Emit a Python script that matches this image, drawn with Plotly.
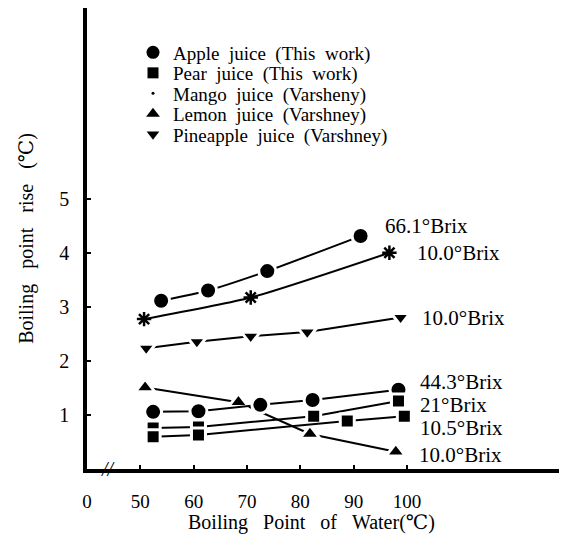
import plotly.graph_objects as go

# ---------------- data ----------------
apple66_x = [53.9, 62.7, 73.8, 91.3]
apple66_y = [3.12, 3.31, 3.67, 4.32]

mango_x = [50.7, 70.7, 96.7]
mango_y = [2.78, 3.18, 4.01]

pine_x = [51.1, 60.6, 70.7, 81.3, 98.8]
pine_y = [2.24, 2.36, 2.46, 2.54, 2.81]

lemon_x = [50.9, 68.4, 81.8, 97.9]
lemon_y = [1.51, 1.24, 0.65, 0.32]

apple44_x = [52.4, 60.9, 72.5, 82.3, 98.4]
apple44_y = [1.06, 1.07, 1.19, 1.28, 1.47]

pear21_x = [52.4, 60.9, 82.5, 98.4]
pear21_y = [0.76, 0.78, 0.98, 1.26]

pear105_x = [52.4, 60.9, 88.8, 99.5]
pear105_y = [0.60, 0.63, 0.89, 0.98]

x_tickvals = [40, 50, 60, 70, 80, 90, 100]
x_ticktext = ["0", "50", "60", "70", "80", "90", "100"]
y_tickvals = [1, 2, 3, 4, 5]
y_ticktext = ["1", "2", "3", "4", "5"]

legend_names = [
    "Apple juice (This work)",
    "Pear juice (This work)",
    "Mango juice (Varsheny)",
    "Lemon juice (Varshney)",
    "Pineapple juice (Varshney)",
]
brix_labels = ["66.1°Brix", "10.0°Brix", "10.0°Brix", "44.3°Brix",
               "21°Brix", "10.5°Brix", "10.0°Brix"]
x_title = "Boiling Point of Water(℃)"
y_title = "Boiling point rise (℃)"

# ---------------- styling / layout ----------------
FONT = "Liberation Serif, Times New Roman, DejaVu Serif, serif"
OFF = 8                      # page body margin of the html page
W, H = 567 - OFF, 536 - OFF
ML, MR, MT, MB = 87 - OFF, 0, 0, 67


def wide(s, n=1):
    return s.replace(" ", " " + "\u00a0" * n)


fig = go.Figure()

WL = 3  # white halo around markers -> gaps in lines


def series(x, y, symbol, size, shape="linear", halo=True):
    fig.add_trace(go.Scatter(
        x=x, y=y, mode="lines+markers", showlegend=False,
        line=dict(color="black", width=2, shape=shape, smoothing=0.6),
        marker=dict(symbol=symbol, size=size + (WL if halo else 0), color="black",
                    line=dict(color="white" if halo else "black",
                              width=WL if halo else 2.5)),
        cliponaxis=False,
    ))


series(apple66_x, apple66_y, "circle", 14, shape="spline")
series(mango_x, mango_y, "asterisk-open", 12, shape="spline", halo=False)
series(pine_x, pine_y, "triangle-down", 13)
series(lemon_x, lemon_y, "triangle-up", 14)
series(apple44_x, apple44_y, "circle", 14)
series(pear21_x, pear21_y, "square", 11)
series(pear105_x, pear105_y, "square", 11)

# legend-only entries, one legend per row (positions in page pixels)
leg_symbols = ["circle", "square", "circle", "triangle-up", "triangle-down"]
leg_sizes = [13, 11, 3, 12, 11]
row_py = [52.5, 73, 93.5, 114, 134.5]
pw = W - ML - MR
ph = H - MT - MB
layout_legends = {}
for i, (name, sym, sz, py) in enumerate(zip(legend_names, leg_symbols, leg_sizes, row_py)):
    key = "legend" if i == 0 else f"legend{i + 1}"
    fig.add_trace(go.Scatter(
        x=[None], y=[None], mode="markers", name=wide(name), legend=key,
        marker=dict(symbol=sym, size=sz, color="black"),
    ))
    layout_legends[key] = dict(
        x=(133 - OFF - ML) / pw, y=(H - MB - (py - OFF)) / ph,
        xanchor="left", yanchor="middle",
        bgcolor="rgba(0,0,0,0)", borderwidth=0,
        font=dict(family=FONT, size=19, color="black"),
        itemsizing="trace",
    )

# Brix labels
lab_x = [95.5, 101.5, 102.4, 102.1, 102.1, 102.1, 101.9]
lab_y = [4.51, 4.01, 2.80, 1.61, 1.19, 0.76, 0.26]
for t, lx, ly in zip(brix_labels, lab_x, lab_y):
    fig.add_annotation(x=lx, y=ly, xref="x", yref="y", text=t, showarrow=False,
                       xanchor="left", yanchor="middle",
                       font=dict(family=FONT, size=21, color="black"))

# axis break mark
fig.add_annotation(x=(108 - OFF - ML) / pw, y=0, xref="paper", yref="paper",
                   text="<i>//</i>", showarrow=False, xanchor="center", yanchor="middle",
                   font=dict(family=FONT, size=20, color="black"))

# x-axis title (placed slightly left of the plot centre, as in the reference)
fig.add_annotation(x=(311 - OFF - ML) / pw, y=(H - MB - (522 - OFF)) / ph,
                   xref="paper", yref="paper", text=wide(x_title, 2), showarrow=False,
                   xanchor="center", yanchor="middle",
                   font=dict(family=FONT, size=20, color="black"))

fig.update_layout(
    width=W, height=H,
    margin=dict(l=ML, r=MR, t=MT, b=MB, autoexpand=False),
    paper_bgcolor="white", plot_bgcolor="white",
    font=dict(family=FONT, size=19, color="black"),
    **layout_legends,
)
fig.update_xaxes(
    automargin=False,
    range=[40, 130], tickvals=x_tickvals, ticktext=x_ticktext,
    showgrid=False, zeroline=False, showline=True, linecolor="black", linewidth=3.5,
    ticks="inside", ticklen=4, tickwidth=1.5, tickcolor="black",
    tickfont=dict(family=FONT, size=19), ticklabelstandoff=12,
)
fig.update_yaxes(
    automargin=False,
    range=[0, 8.55], tickvals=y_tickvals, ticktext=y_ticktext,
    showgrid=False, zeroline=False, showline=True, linecolor="black", linewidth=3.5,
    ticks="inside", ticklen=4, tickwidth=1.5, tickcolor="black",
    tickfont=dict(family=FONT, size=20), ticklabelstandoff=10,
    title=dict(text=wide(y_title, 2),
               font=dict(family=FONT, size=20), standoff=21),
)

fig.write_html("out.html")
